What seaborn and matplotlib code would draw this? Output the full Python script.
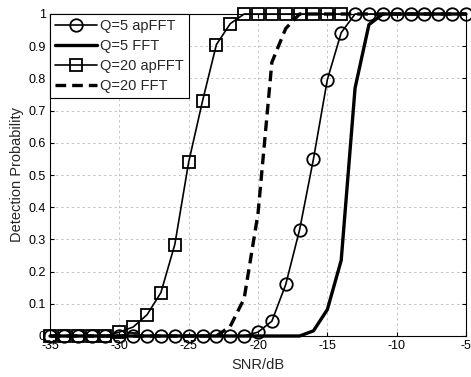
import numpy as np
import pandas as pd
import matplotlib
matplotlib.use("Agg")
import matplotlib.pyplot as plt
import seaborn as sns

# ---- data ----
snr_q5 = list(range(-35, -4))            # -35 .. -5
q5_apfft = [0]*14 + [0.0, 0.012, 0.046, 0.16, 0.33, 0.55, 0.796, 0.942] + [1.0]*9
q5_fft = [0]*19 + [0.016, 0.082, 0.235, 0.77, 0.967] + [1.0]*7

snr_q20 = list(range(-35, -13))          # -35 .. -14
q20_apfft = [0]*5 + [0.012, 0.028, 0.066, 0.135, 0.284, 0.54, 0.73, 0.905, 0.97] + [1.0]*8

snr_q20f = list(range(-35, -4))
q20_fft = [0]*12 + [0.0, 0.03, 0.116, 0.38, 0.85, 0.955] + [1.0]*13

labels = ["Q=5 apFFT", "Q=5 FFT", "Q=20 apFFT", "Q=20 FFT"]
x_ticks = [-35, -30, -25, -20, -15, -10, -5]
y_ticks = [0, 0.1, 0.2, 0.3, 0.4, 0.5, 0.6, 0.7, 0.8, 0.9, 1]
y_ticklabels = ["0", "0.1", "0.2", "0.3", "0.4", "0.5", "0.6", "0.7", "0.8", "0.9", "1"]

sns.set_theme(style="white")
plt.rcParams["font.family"] = ["Liberation Sans", "DejaVu Sans"]
plt.rcParams["axes.unicode_minus"] = False

fig = plt.figure(figsize=(4.71, 3.77), dpi=100)
ax = fig.add_axes([50/471, 1 - 336/377, 416/471, 322/377])

d1 = pd.DataFrame({"x": snr_q5, "y": q5_apfft})
d2 = pd.DataFrame({"x": snr_q5, "y": q5_fft})
d3 = pd.DataFrame({"x": snr_q20, "y": q20_apfft})
d4 = pd.DataFrame({"x": snr_q20f, "y": q20_fft})

sns.lineplot(data=d1, x="x", y="y", ax=ax, color="black", lw=1.2, marker="o",
             markersize=9, markerfacecolor="none", markeredgecolor="black",
             markeredgewidth=1.3, label=labels[0], clip_on=False, zorder=3)
sns.lineplot(data=d2, x="x", y="y", ax=ax, color="black", lw=2.4, label=labels[1],
             clip_on=False, zorder=3)
sns.lineplot(data=d3, x="x", y="y", ax=ax, color="black", lw=1.2, marker="s",
             markersize=8, markerfacecolor="none", markeredgecolor="black",
             markeredgewidth=1.3, label=labels[2], clip_on=False, zorder=3)
sns.lineplot(data=d4, x="x", y="y", ax=ax, color="black", lw=2.4,
             linestyle=(0, (3.2, 1.8)), label=labels[3], clip_on=False, zorder=3)

ax.set_xlim(-35, -5)
ax.set_ylim(0, 1)
ax.set_xticks(x_ticks)
ax.set_xticklabels([str(t) for t in x_ticks])
ax.set_yticks(y_ticks)
ax.set_yticklabels(y_ticklabels)
ax.tick_params(direction="in", length=3, width=0.8, colors="black", labelsize=9,
               top=True, right=True, bottom=True, left=True, pad=3)
ax.grid(True, color="#c4c4c4", linestyle=(0, (2.5, 3)), linewidth=0.7)
for s in ax.spines.values():
    s.set_color("black")
    s.set_linewidth(0.8)
ax.set_xlabel("SNR/dB", fontsize=10.5, labelpad=4)
ax.set_ylabel("Detection Probability", fontsize=10.5, labelpad=3)

leg = ax.legend(loc="upper left", fontsize=10.5, frameon=True, fancybox=False,
                edgecolor="black", framealpha=1, borderaxespad=0, handlelength=2.9,
                handletextpad=0.2, labelspacing=0.4, borderpad=0.35)
leg.get_frame().set_linewidth(0.8)
leg.set_zorder(5)

fig.savefig("out.png", dpi=100)
